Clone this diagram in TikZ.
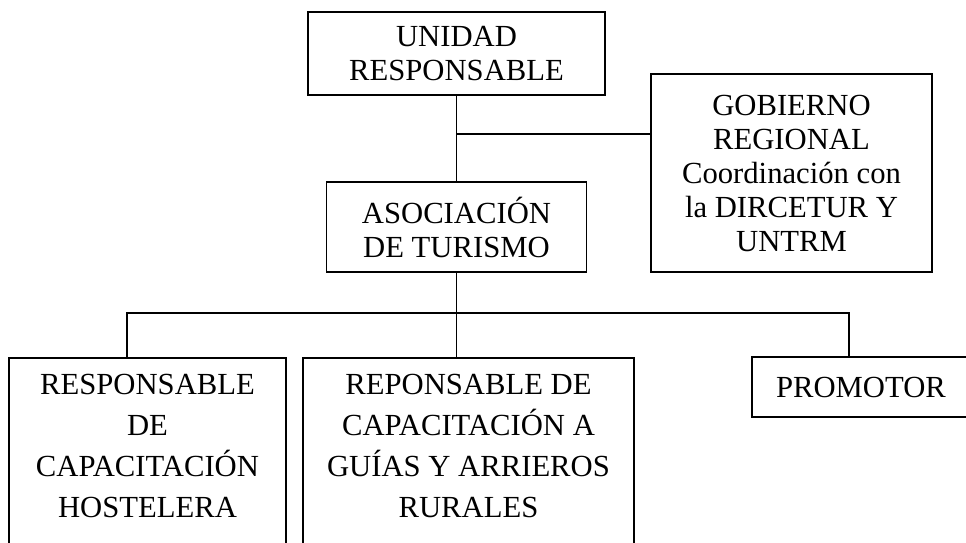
\documentclass[tikz,border=0pt]{standalone}
\usepackage{fontspec}
\setmainfont{Liberation Serif}
\usepackage{tikz}

\begin{document}
\begin{tikzpicture}[
  x=0.75pt,y=-0.75pt,
  every node/.style={font=\fontsize{23}{25.5}\selectfont},
  unitbox/.style={draw,line width=1.2pt,align=center,inner sep=0pt},
  staffbox/.style={draw,line width=1.2pt,align=center,anchor=north,
    inner xsep=0pt,inner ysep=12pt,text depth=150pt,
    font=\fontsize{23}{30.75}\selectfont},
  conn/.style={line width=1.2pt}
]
  \useasboundingbox (0,0) rectangle (966,542);
  \clip (0,0) rectangle (966,542);

  \node[unitbox,minimum width=222.75pt,minimum height=62.25pt] (unidad)
    at (456.5,53.5) {UNIDAD\\RESPONSABLE};
  \node[unitbox,minimum width=210.75pt,minimum height=148.5pt] (gobierno)
    at (791.5,173) {GOBIERNO\\REGIONAL\\Coordinación con\\la DIRCETUR Y\\UNTRM};
  \node[unitbox,minimum width=195pt,minimum height=67.5pt] (asociacion)
    at (456.5,227) {ASOCIACIÓN\\DE TURISMO};

  \node[staffbox,minimum width=207.75pt] (hostelera) at (147.5,357)
    {RESPONSABLE\\DE\\CAPACITACIÓN\\HOSTELERA};
  \node[staffbox,minimum width=248.25pt] (guias) at (468.5,357)
    {REPONSABLE DE\\CAPACITACIÓN A\\GUÍAS Y ARRIEROS\\RURALES};
  \node[unitbox,minimum width=163.5pt,minimum height=45pt] (promotor)
    at (861,387) {PROMOTOR};

  \coordinate (gobjoin) at (456.5,134);
  \coordinate (busL) at (127,313);
  \coordinate (busR) at (849,313);

  \draw[conn] (unidad.south) -- (unidad.south |- asociacion.north);
  \draw[conn] (gobjoin) -- (gobjoin -| gobierno.west);
  \draw[conn] (asociacion.south) -- (asociacion.south |- guias.north);
  \draw[conn] (busL |- hostelera.north) -- (busL) -- (busR)
    -- (busR |- promotor.north);
\end{tikzpicture}
\end{document}
